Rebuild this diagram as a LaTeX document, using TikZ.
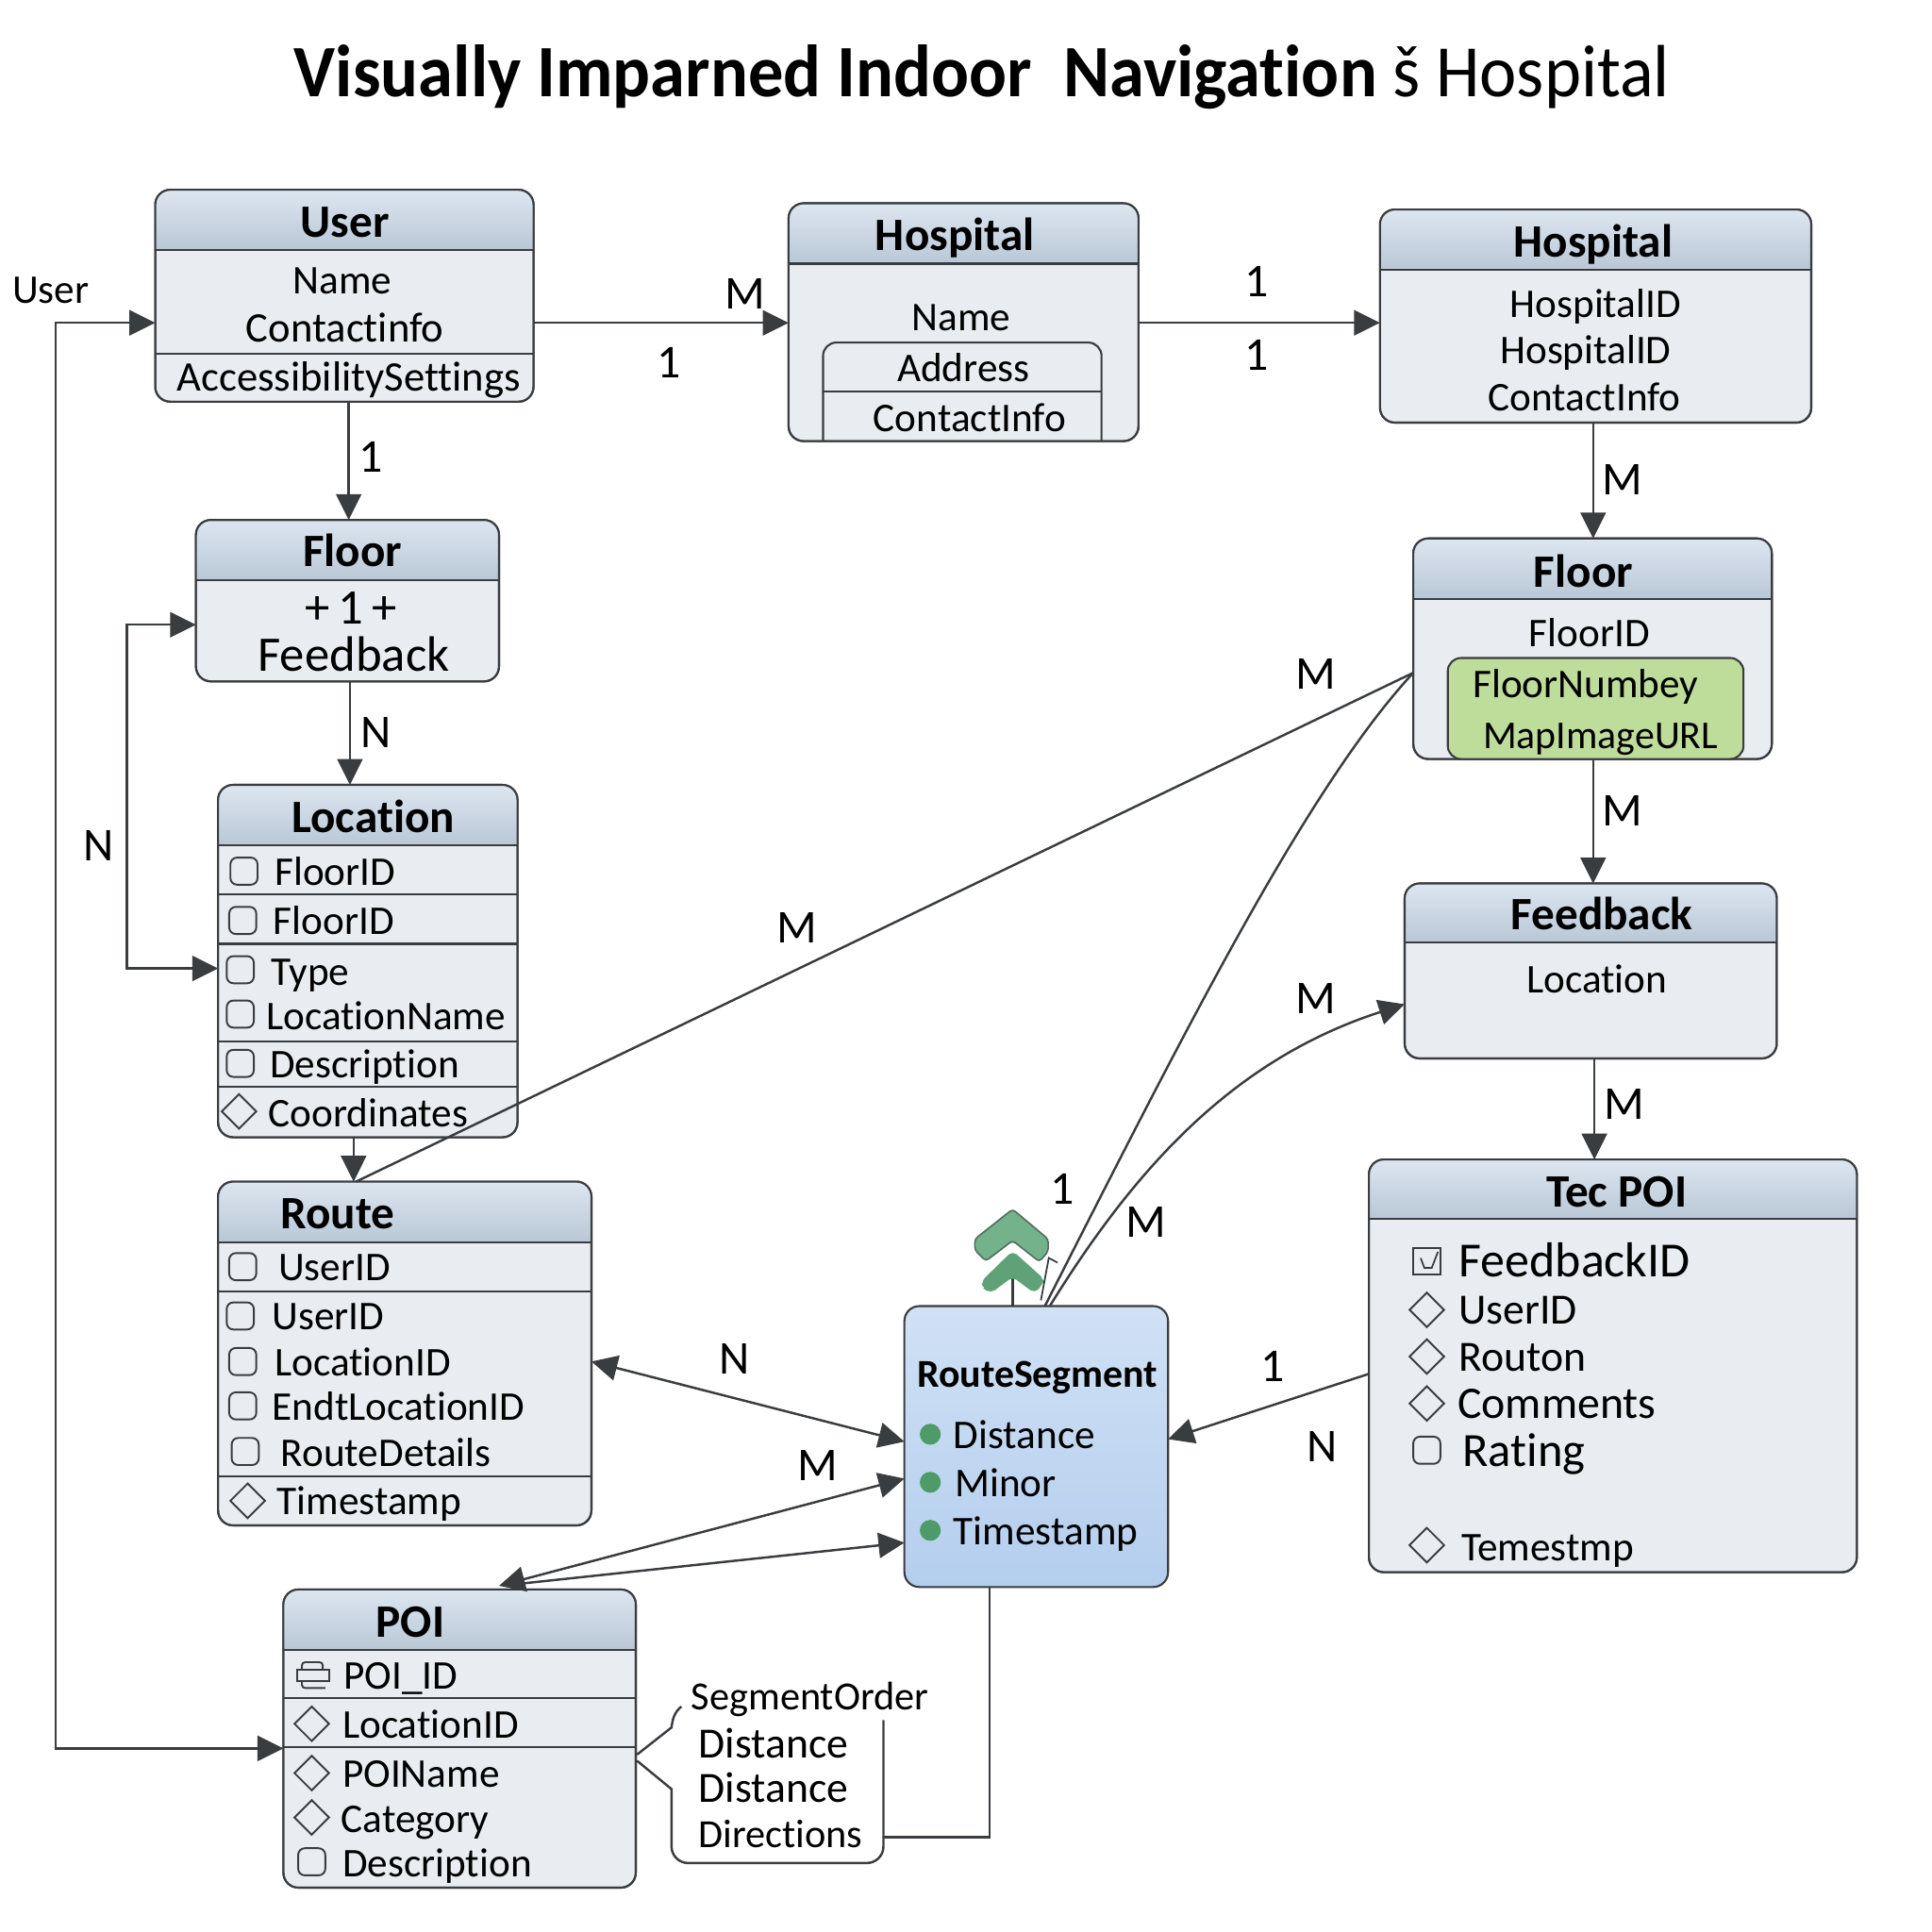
\documentclass[tikz,border=0pt]{standalone}
\usepackage{fontspec}
\setmainfont[Ligatures=NoCommon]{Carlito}
\usetikzlibrary{arrows.meta,calc}
\definecolor{ink}{HTML}{3A3D40}
\definecolor{bodyc}{HTML}{E9EDF1}
\definecolor{hdrtop}{HTML}{DDE6F0}
\definecolor{hdrbot}{HTML}{B9C7D6}
\definecolor{rstop}{HTML}{D0E1F4}
\definecolor{rsbot}{HTML}{B4CEEE}
\definecolor{greenbox}{HTML}{BEDC9A}
\definecolor{dot}{HTML}{4E9A68}
\definecolor{chevA}{HTML}{74B28B}
\definecolor{chevB}{HTML}{5FA278}
\newcounter{tcnt}
\newcommand{\uu}{0.01306}
\tikzset{
  x=0.01306cm,y=-0.01306cm,
  edge/.style={draw=ink,line width=0.7pt},
  arr/.style={edge,-{Triangle[length=7.8pt,width=7.6pt]}},
  arrboth/.style={edge,{Triangle[length=7.8pt,width=7.6pt]}-{Triangle[length=7.8pt,width=7.6pt]}},
  boxnode/.style={draw=ink,line width=0.6pt,rounded corners=4.5pt,inner sep=0pt,outer sep=0pt,fill=bodyc},
  rule/.style={draw=ink,line width=0.6pt},
  txt/.style={inner sep=0pt,outer sep=0pt,yshift=-1.5pt,font=\fontsize{12.3}{14}\selectfont,text=black},
  ttl/.style={txt,font=\fontsize{14}{16}\bfseries\selectfont},
  lab/.style={txt,font=\fontsize{14.2}{16}\selectfont},
  fsA/.style={txt,font=\fontsize{12.7}{15}\selectfont},
  fsB/.style={txt,font=\fontsize{13}{15}\selectfont},
  fsC/.style={txt,font=\fontsize{13.6}{15}\selectfont},
  fsD/.style={txt,font=\fontsize{14.4}{15}\selectfont},
  fsE/.style={txt,font=\fontsize{14.8}{15}\selectfont},
  fsF/.style={txt,font=\fontsize{15}{15}\selectfont},
  fsS/.style={txt,font=\fontsize{11.9}{14}\selectfont},
  fsT/.style={txt,font=\fontsize{12.05}{14}\selectfont},
  icon/.style={draw=ink,line width=0.55pt},
}
% entity: name, x1, y1, x2, y2, header bottom
\newcommand{\ent}[6]{%
  \pgfmathsetmacro{\ww}{(#4-#2)*\uu}%
  \pgfmathsetmacro{\hh}{(#5-#3)*\uu}%
  \node[boxnode,minimum width=\ww cm,minimum height=\hh cm] (#1) at ({(#2+#4)/2},{(#3+#5)/2}) {};%
  \shade[top color=hdrtop,bottom color=hdrbot] (#2,#6) [rounded corners=4.5pt] -- (#2,#3) -- (#4,#3) [sharp corners] -- (#4,#6) -- cycle;%
  \draw[draw=ink,line width=0.6pt,rounded corners=4.5pt] (#1.south west) rectangle (#1.north east);%
  \draw[rule] (#2,#6) -- (#4,#6);}
\newcommand{\T}[4][txt]{\stepcounter{tcnt}\node[#1,anchor=mid,name=t\thetcnt] at (#2,#3) {#4};}
\newcommand{\Lf}[4][txt]{\stepcounter{tcnt}\node[#1,anchor=mid west,name=t\thetcnt] at (#2,#3) {#4};}
\newcommand{\sq}[2]{\draw[icon,rounded corners=2pt] ($(#1,#2)+(-11,-11)$) rectangle ($(#1,#2)+(11,11)$);}
\newcommand{\dia}[2]{\draw[icon] ($(#1,#2)+(-14,0)$) -- ($(#1,#2)+(0,-14)$) -- ($(#1,#2)+(14,0)$) -- ($(#1,#2)+(0,14)$) -- cycle;}
\newcommand{\hr}[3]{\draw[rule] (#1,#3) -- (#2,#3);}
\begin{document}
\begin{tikzpicture}
\useasboundingbox (0,0) rectangle (1568,1568);
\fill[white] (0,0) rectangle (1568,1568);

% title
\node[inner sep=0pt,name=title,anchor=mid,xscale=0.95] at (797,72) {\fontsize{22.3}{26}\selectfont\textbf{Visually Imparned Indoor\ \ Navigation} š Hospital};

% boxes
\ent{user}{126}{154}{433}{326}{203}
\hr{126}{433}{287}
\T[ttl]{280}{182}{User}
\T{278}{228}{Name}
\T[fsA]{280}{267}{Contactinfo}
\T[fsA]{283}{307}{AccessibilitySettings}

\ent{hospA}{640}{165}{924}{358}{214}
\T[ttl]{775}{193}{Hospital}
\T{780}{258}{Name}
\draw[rule,rounded corners=4pt] (668,358) -- (668,278) -- (894,278) -- (894,358);
\hr{668}{894}{318}
\T{782}{299}{Address}
\T{787}{340}{ContactInfo}

\ent{hospB}{1120}{170}{1470}{343}{219}
\T[ttl]{1293}{198}{Hospital}
\T{1295}{247}{HospitalID}
\T{1287}{285}{HospitalID}
\T{1286}{323}{ContactInfo}

\ent{floorA}{159}{422}{405}{553}{471}
\T[ttl]{286}{449}{Floor}
\T[fsF]{285}{496}{+\,1\,+}
\T[fsF]{287}{534}{Feedback}

\ent{loc}{177}{637}{420}{923}{686}
\T[ttl]{303}{665}{Location}
\hr{177}{420}{726}\hr{177}{420}{766}\hr{177}{420}{845}\hr{177}{420}{882}
\sq{198}{707}\Lf{223}{708}{FloorID}
\sq{197}{747}\Lf{222}{748}{FloorID}
\sq{195}{787}\Lf{220}{789}{Type}
\sq{195}{823}\Lf{216}{825}{LocationName}
\sq{195}{863}\Lf{219}{864}{Description}
\dia{194}{902}\Lf{218}{904}{Coordinates}

\ent{route}{177}{959}{480}{1238}{1008}
\T[ttl]{274}{987}{Route}
\hr{177}{480}{1048}\hr{177}{480}{1198}
\sq{197}{1028}\Lf{226}{1029}{UserID}
\sq{195}{1068}\Lf{221}{1069}{UserID}
\sq{197}{1105}\Lf{223}{1106}{LocationID}
\sq{197}{1141}\Lf{221}{1142}{EndtLocationID}
\sq{199}{1178}\Lf{228}{1180}{RouteDetails}
\dia{201}{1218}\Lf{225}{1219}{Timestamp}

\ent{poi}{230}{1290}{516}{1532}{1339}
\T[ttl]{333}{1318}{POI}
\hr{230}{516}{1378}\hr{230}{516}{1418}
\draw[icon] (241,1355) rectangle (267,1364);
\draw[icon,rounded corners=1pt] (245,1355) -- (245,1349) -- (262,1349) -- (262,1355);
\draw[icon,rounded corners=1pt] (245,1364) -- (245,1370) -- (264,1370);
\Lf{279}{1360}{POI\_ID}
\dia{253}{1399}\Lf{278}{1400}{LocationID}
\dia{253}{1439}\Lf{278}{1440}{POIName}
\dia{253}{1475}\Lf{277}{1477}{Category}
\sq{253}{1511}\Lf{278}{1513}{Description}

\ent{floorB}{1147}{437}{1438}{616}{486}
\T[ttl]{1285}{466}{Floor}
\T{1290}{514}{FloorID}
\draw[rule,fill=greenbox,rounded corners=4pt] (1175,616) -- (1175,534) -- (1415,534) -- (1415,616) -- cycle;
\T{1287}{556}{FloorNumbey}
\T[fsS]{1299}{597}{MapImageURL}

\ent{feed}{1140}{717}{1442}{859}{765}
\T[ttl]{1300}{744}{Feedback}
\T{1296}{795}{Location}

\ent{tec}{1111}{941}{1507}{1276}{989}
\T[ttl]{1312}{969}{Tec POI}
\draw[icon] (1147,1013) rectangle (1169,1034);
\draw[icon,line width=0.5pt] (1153,1021) -- (1156,1029) -- (1162,1029) -- (1167,1016);
\Lf[fsE]{1184}{1026}{FeedbackID}
\dia{1158}{1063}\Lf[fsB]{1184}{1064}{UserID}
\dia{1158}{1101}\Lf[fsB]{1184}{1102}{Routon}
\dia{1158}{1139}\Lf[fsC]{1183}{1141}{Comments}
\sq{1158}{1177}\Lf[fsD]{1187}{1180}{Rating}
\dia{1158}{1254}\Lf{1186}{1256}{Temestmp}

% RouteSegment
\pgfmathsetmacro{\ww}{(948-734)*\uu}
\pgfmathsetmacro{\hh}{(1288-1060)*\uu}
\node[boxnode,top color=rstop,bottom color=rsbot,minimum width=\ww cm,minimum height=\hh cm] (rs) at (841,1174) {};
\T[fsS]{842}{1115}{\textbf{RouteSegment}}
\fill[dot] (755,1164) circle[radius=8.5];
\fill[dot] (755,1203) circle[radius=8.5];
\fill[dot] (755,1242) circle[radius=8.5];
\Lf{774}{1165}{Distance}
\Lf{775}{1204}{Minor}
\Lf{774}{1243}{Timestamp}

% chevrons above RouteSegment
\begin{scope}[shift={(727.4,941.8)},x=0.2552*0.01306cm,y=-0.2552*0.01306cm]
  \draw[edge] (370,368) -- (370,462);
  \draw[draw=ink!60!chevA,line width=0.45pt,fill=chevA,rounded corners=1pt] (370,155) -- (483,250) -- (483,290) -- (455,322) -- (370,255) -- (285,320) -- (250,285) -- (250,250) -- cycle;
  \draw[draw=chevB,line width=0.4pt,fill=chevB,rounded corners=1.5pt] (370,290) -- (468,378) -- (462,395) -- (440,420) -- (370,368) -- (300,420) -- (278,405) -- (273,385) -- cycle;
  \draw[edge,line width=0.5pt] (460,445) -- (485,310) -- (513,325);
\end{scope}

% segment note
\draw[edge] (553,1385) .. controls (547,1390) and (546,1395) .. (545,1402) -- (517,1424);
\draw[edge] (517,1429) -- (545,1452) [rounded corners=5pt] -- (545,1512) -- (717,1512) [sharp corners] -- (717,1396);
\Lf[fsT]{561}{1377}{SegmentOrder}
\Lf[fsB]{567}{1416}{Distance}
\Lf[fsB]{567}{1452}{Distance}
\Lf[fsT]{567}{1489}{Directions}
\coordinate (noteE) at (717,1491);
\draw[edge] (noteE) -- (803,1491) -- (803,0 |- rs.south);

% connectors
\draw[arrboth] (user.west |- 0,262) -- (45,262) -- (45,1419) -- (poi.west |- 0,1419);
\draw[arr] (user.east |- 0,262) -- (hospA.west |- 0,262);
\draw[arr] (hospA.east |- 0,262) -- (hospB.west |- 0,262);
\draw[arr] (283,0 |- user.south) -- (283,0 |- floorA.north);
\draw[arr] (284,0 |- floorA.south) -- (284,0 |- loc.north);
\draw[arrboth] (floorA.west |- 0,507) -- (103,507) -- (103,786) -- (loc.west |- 0,786);
\draw[arr] (287,0 |- loc.south) -- (287,0 |- route.north);
\draw[edge] (289,0 |- route.north) -- (floorB.west |- 0,546);
\draw[edge] (floorB.west |- 0,546) .. controls (1060,640) and (960,840) .. (848,0 |- rs.north);
\draw[arr] (852,0 |- rs.north) .. controls (920,950) and (1000,860) .. (feed.west |- 0,815);
\draw[arr] (1293,0 |- hospB.south) -- (1293,0 |- floorB.north);
\draw[arr] (1293,0 |- floorB.south) -- (1293,0 |- feed.north);
\draw[arr] (1294,0 |- feed.south) -- (1294,0 |- tec.north);
\draw[arr] (tec.west |- 0,1115) -- (rs.east |- 0,1168);
\draw[arrboth] (route.east |- 0,1105) -- (rs.west |- 0,1170);
\draw[arrboth] (405,0 |- poi.north) ++(0,-3) -- (rs.west |- 0,1200);
\draw[arr] (425,1285) -- (rs.west |- 0,1252);

% labels
\Lf{10}{236}{User}
\T[lab]{605}{240}{M}
\T[lab]{543}{296}{1}
\T[lab]{1020}{230}{1}
\T[lab]{1020}{290}{1}
\T[lab]{301}{373}{1}
\T[lab]{305}{596}{N}
\T[lab]{80}{688}{N}
\T[lab]{647}{755}{M}
\T[lab]{1068}{549}{M}
\T[lab]{1317}{391}{M}
\T[lab]{1317}{660}{M}
\T[lab]{1068}{812}{M}
\T[lab]{1318}{898}{M}
\T[lab]{862}{967}{1}
\T[lab]{930}{994}{M}
\T[lab]{1033}{1111}{1}
\T[lab]{1073}{1176}{N}
\T[lab]{596}{1105}{N}
\T[lab]{664}{1191}{M}
\end{tikzpicture}
\end{document}
